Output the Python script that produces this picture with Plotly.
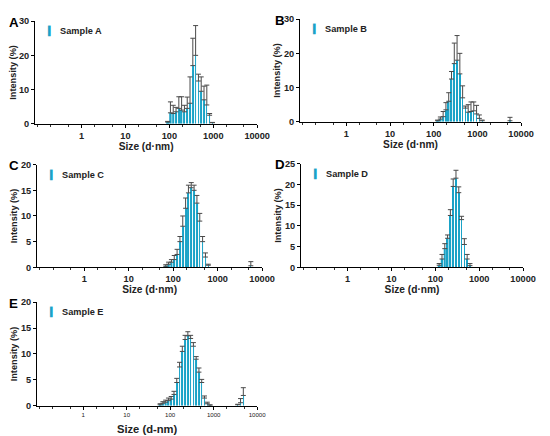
import plotly.graph_objects as go

# Size bins (d.nm) and intensity (%) with error (SD) for each sample
sizes_A = [91.3, 105.7, 122.4, 141.8, 164.2, 190.1, 220.2, 255.0, 295.3, 342.0, 396.1, 458.7, 531.2, 615.1, 712.4, 825.0, 955.4]
int_A = [0.5, 3.2, 3.0, 3.5, 4.5, 4.0, 3.5, 4.5, 6.0, 17.0, 20.0, 12.5, 9.5, 7.0, 5.5, 2.5, 0.3]
err_A = [0.2, 3.2, 2.4, 1.3, 3.4, 3.9, 1.9, 3.3, 7.7, 8.0, 8.7, 2.0, 4.2, 4.0, 5.8, 0.5, 0.1]

sizes_B = [122.4, 141.8, 164.2, 190.1, 220.2, 255.0, 295.3, 342.0, 396.1, 458.7, 531.2, 615.1, 712.4, 825.0, 955.4, 1106.0, 1281.0, 5560.0]
int_B = [0.3, 0.8, 1.5, 3.5, 6.0, 12.5, 17.0, 18.0, 14.0, 7.0, 4.0, 2.8, 3.0, 3.2, 2.3, 1.0, 0.3, 0.3]
err_B = [0.2, 0.6, 1.5, 2.1, 2.5, 2.2, 6.0, 7.2, 6.0, 3.5, 0.6, 2.2, 2.8, 2.6, 2.5, 1.0, 0.2, 1.0]

sizes_C = [68.1, 78.8, 91.3, 105.7, 122.4, 141.8, 164.2, 190.1, 220.2, 255.0, 295.3, 342.0, 396.1, 458.7, 531.2, 615.1, 5560.0]
int_C = [0.2, 0.6, 1.0, 1.5, 2.5, 5.0, 8.0, 11.5, 14.5, 15.5, 15.0, 12.5, 9.0, 5.0, 2.0, 0.4, 0.3]
err_C = [0.3, 0.4, 0.5, 0.8, 1.0, 1.0, 2.0, 2.0, 1.5, 1.0, 1.0, 1.5, 1.5, 1.0, 0.8, 0.2, 0.8]

sizes_D = [122.4, 141.8, 164.2, 190.1, 220.2, 255.0, 295.3, 342.0, 396.1, 458.7, 531.2, 615.1]
int_D = [0.5, 2.0, 4.5, 7.0, 12.5, 19.5, 21.5, 18.0, 11.5, 5.5, 2.0, 0.4]
err_D = [0.4, 1.1, 1.2, 0.8, 1.4, 1.8, 1.9, 1.4, 0.8, 1.4, 1.1, 0.5]

sizes_E = [58.8, 68.1, 78.8, 91.3, 105.7, 122.4, 141.8, 164.2, 190.1, 220.2, 255.0, 295.3, 342.0, 396.1, 458.7, 531.2, 615.1, 712.4, 825.0, 3580.0, 4145.0, 4801.0]
int_E = [0.2, 0.5, 0.7, 1.0, 1.3, 2.2, 4.5, 7.5, 10.5, 12.8, 13.5, 13.0, 11.5, 9.0, 6.5, 4.5, 1.5, 0.4, 0.1, 0.2, 0.6, 2.0]
err_E = [0.2, 0.3, 0.4, 0.5, 0.5, 0.6, 0.8, 0.9, 1.0, 0.8, 0.8, 0.6, 0.7, 0.5, 0.8, 0.6, 0.4, 0.3, 0.1, 0.1, 0.8, 1.5]

x_ticks = [1, 10, 100, 1000, 10000]
x_ticklabels = ["1", "10", "100", "1000", "10000"]

panels = [
    dict(name="Sample A", letter="A", x=sizes_A, y=int_A, e=err_A, ymax=30, dy=10,
         px=(35, 258), py=(16, 119), xt="Size (d·nm)"),
    dict(name="Sample B", letter="B", x=sizes_B, y=int_B, e=err_B, ymax=30, dy=10,
         px=(301, 523), py=(14, 117), xt="Size (d·nm)"),
    dict(name="Sample C", letter="C", x=sizes_C, y=int_C, e=err_C, ymax=20, dy=5,
         px=(37, 263), py=(160, 263), xt="Size (d·nm)"),
    dict(name="Sample D", letter="D", x=sizes_D, y=int_D, e=err_D, ymax=25, dy=5,
         px=(302, 525), py=(159, 263), xt="Size (d·nm)"),
    dict(name="Sample E", letter="E", x=sizes_E, y=int_E, e=err_E, ymax=20, dy=5,
         px=(37, 258), py=(298, 402), xt="Size (d-nm)"),
]

# The photographed area is about 2% larger than 550x436 CSS px, and the page keeps
# the browser's default 8px body margin: size the figure so the page fills that area.
SCALE = 0.98
OFF = 8
PAGE_W, PAGE_H = 561, 445
W, H = PAGE_W - 2 * OFF, PAGE_H - 2 * OFF
FONT = "Liberation Sans, Arial, sans-serif"
TEAL = "#1aa3c7"


def fx(v):
    return (v / SCALE - OFF) / W


def fy(v):
    return 1 - (v / SCALE - OFF) / H


def fs(v):
    return round(v / SCALE, 1)


fig = go.Figure()
layout = dict(width=W, height=H, margin=dict(l=0, r=0, t=0, b=0, pad=0),
              paper_bgcolor="white", plot_bgcolor="white", showlegend=False,
              bargap=0.1, annotations=[])

for i, p in enumerate(panels):
    k = "" if i == 0 else str(i + 1)
    fig.add_trace(go.Bar(
        x=p["x"], y=p["y"], name=p["name"], xaxis="x" + k, yaxis="y" + k,
        marker=dict(color=TEAL, line=dict(width=0)),
        error_y=dict(type="data", array=p["e"], arrayminus=[0] * len(p["e"]),
                     symmetric=False, color="#4a4a4a", thickness=1, width=2.5),
    ))
    small = p["letter"] == "E"
    layout["xaxis" + k] = dict(
        domain=[fx(p["px"][0]), fx(p["px"][1])], anchor="y" + k, type="log",
        range=[-1.06, 4.0], tickvals=x_ticks, ticktext=x_ticklabels,
        showline=True, linecolor="black", linewidth=1, ticks="outside", ticklen=3,
        tickcolor="black", showgrid=False, zeroline=False,
        minor=dict(ticks="outside", ticklen=2, tickcolor="#333", showgrid=False),
        tickfont=dict(family=FONT, size=fs(6) if small else fs(9), color="#222",
                      weight="normal" if small else "bold"),
        title=dict(text=p["xt"], standoff=8 if small else 1,
                   font=dict(family=FONT, size=fs(11) if small else fs(10), color="#222", weight="bold")),
    )
    layout["yaxis" + k] = dict(
        domain=[fy(p["py"][1]), fy(p["py"][0])], anchor="x" + k,
        range=[0, p["ymax"]], dtick=p["dy"], showline=True, linecolor="black", linewidth=1,
        ticks="outside", ticklen=3, tickcolor="black", showgrid=False, zeroline=False,
        tickfont=dict(family=FONT, size=fs(9), color="#222", weight="bold"),
        title=dict(text="Intensity (%)", standoff=1,
                   font=dict(family=FONT, size=fs(9), color="#222", weight="bold")),
    )
    # panel letter
    lx = 7 if p["px"][0] < 100 else 274
    layout["annotations"].append(dict(
        text="<b>%s</b>" % p["letter"], xref="paper", yref="paper",
        x=fx(lx), y=fy(p["py"][0] + 1), xanchor="left", yanchor="middle",
        showarrow=False, font=dict(family=FONT, size=fs(13), color="black")))
    # legend-like label
    layout["annotations"].append(dict(
        text="<span style='color:%s'>▍</span>  <b>%s</b>" % (TEAL, p["name"]),
        xref="paper", yref="paper",
        x=fx(p["px"][0] + 10), y=fy(p["py"][0] + 10), xanchor="left", yanchor="middle",
        showarrow=False, font=dict(family=FONT, size=fs(9), color="#222")))

fig.update_layout(**layout)
fig.write_html("out.html", config={"displayModeBar": False})
